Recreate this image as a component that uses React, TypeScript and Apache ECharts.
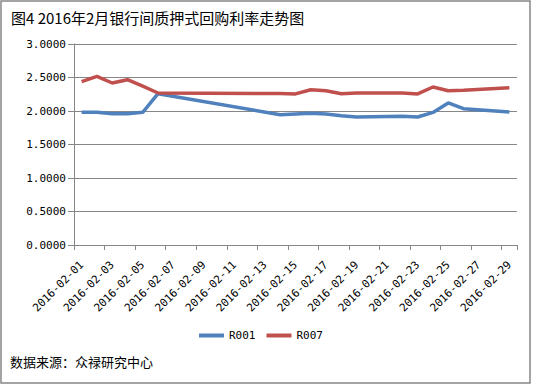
import React, { useEffect, useRef } from "react";
import * as echarts from "echarts";

const dates = [
  "2016-02-01", "2016-02-02", "2016-02-03", "2016-02-04", "2016-02-05", "2016-02-06",
  "2016-02-07", "2016-02-08", "2016-02-09", "2016-02-10", "2016-02-11", "2016-02-12",
  "2016-02-13", "2016-02-14", "2016-02-15", "2016-02-16", "2016-02-17", "2016-02-18",
  "2016-02-19", "2016-02-20", "2016-02-21", "2016-02-22", "2016-02-23", "2016-02-24",
  "2016-02-25", "2016-02-26", "2016-02-27", "2016-02-28", "2016-02-29",
];

const r001: (number | null)[] = [
  1.98, 1.98, 1.96, 1.96, 1.98, 2.258,
  null, null, null, null, null, null, null,
  1.945, 1.955, 1.965, 1.955, 1.93, 1.91,
  null, null,
  1.92, 1.91, 1.979, 2.12, 2.034,
  null, null,
  1.985,
];

const r007: (number | null)[] = [
  2.437, 2.516, 2.418, 2.467, 2.37, 2.269,
  null, null, null, null, null, null, null,
  2.26, 2.255, 2.318, 2.303, 2.258, 2.27,
  null, null,
  2.27, 2.255, 2.358, 2.303, 2.31,
  null, null,
  2.348,
];

const yTicks = { min: 0, max: 3, interval: 0.5 };

const titleText = "图4 2016年2月银行间质押式回购利率走势图";
const sourceText = "数据来源：众禄研究中心";

const GRAY = "#868686";
const MONO = "'DejaVu Sans Mono', monospace";
const CJK = "'Noto Sans CJK SC', sans-serif";

export default function App() {
  const ref = useRef<HTMLDivElement>(null);
  useEffect(() => {
    if (!ref.current) return;
    const chart = echarts.init(ref.current, null, { renderer: "svg" });
    chart.setOption({
      animation: false,
      backgroundColor: "#ffffff",
      title: {
        text: titleText,
        left: 11,
        top: 10,
        padding: 0,
        textStyle: { fontSize: 15, fontWeight: "normal", color: "#000", fontFamily: CJK },
      },
      grid: { left: 74, right: 21, top: 44, bottom: 142, containLabel: false },
      legend: {
        top: 325,
        left: 194,
        icon: "rect",
        itemWidth: 25,
        itemHeight: 4,
        itemGap: 11,
        textStyle: { fontSize: 11, color: "#000", fontFamily: MONO },
        data: ["R001", "R007"],
      },
      xAxis: {
        type: "category",
        data: dates,
        boundaryGap: true,
        axisLine: { show: true, lineStyle: { color: GRAY, width: 1 } },
        axisTick: { show: true, interval: 1, length: 5, lineStyle: { color: GRAY } },
        axisLabel: { interval: 1, rotate: 45, margin: 18, fontSize: 11, color: "#000", fontFamily: MONO },
        splitLine: { show: false },
      },
      yAxis: {
        type: "value",
        min: yTicks.min,
        max: yTicks.max,
        interval: yTicks.interval,
        axisLine: { show: true, lineStyle: { color: GRAY, width: 1 } },
        axisTick: { show: true, length: 6, lineStyle: { color: GRAY } },
        axisLabel: {
          margin: 8,
          fontSize: 11,
          color: "#000",
          fontFamily: MONO,
          formatter: (v: number) => v.toFixed(4),
        },
        splitLine: { show: true, lineStyle: { color: GRAY, width: 1 } },
      },
      series: [
        {
          name: "R001",
          type: "line",
          data: r001,
          connectNulls: true,
          symbol: "none",
          lineStyle: { color: "#4F81BD", width: 3.5 },
          itemStyle: { color: "#4F81BD" },
        },
        {
          name: "R007",
          type: "line",
          data: r007,
          connectNulls: true,
          symbol: "none",
          lineStyle: { color: "#C0504D", width: 3.5 },
          itemStyle: { color: "#C0504D" },
        },
      ],
      graphic: [
        {
          type: "rect",
          shape: { x: 1, y: 1, width: 529, height: 382 },
          style: { fill: "none", stroke: GRAY, lineWidth: 1.5 },
          silent: true,
        },
        {
          type: "text",
          left: 10,
          top: 355,
          style: { text: sourceText, fontSize: 13, fill: "#000", fontFamily: CJK },
        },
      ],
    });
    return () => chart.dispose();
  }, []);
  return (
    <div
      ref={ref}
      style={{ position: "fixed", left: 0, top: 0, width: 538, height: 387 }}
    />
  );
}
